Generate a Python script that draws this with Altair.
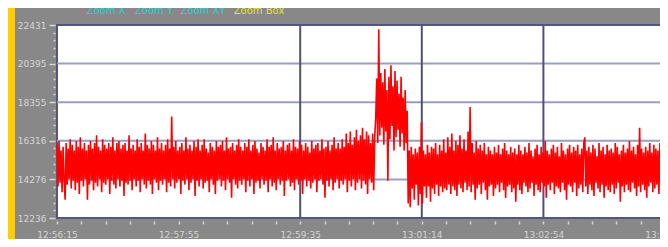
import altair as alt
import pandas as pd

# ---- data (signal level per sample) ----
values = [
    # steady part, 12:56:15 .. ~13:00:20
    16100, 13900, 16300, 14100, 15800, 13600, 16000, 14200, 13200, 16200, 14000, 15900, 14300, 16400, 13800, 16100, 14200, 15800, 13700, 16300,
    14100, 16000, 13500, 16500, 14200, 15900, 13900, 16200, 14300, 15800, 13200, 16100, 14000, 16300, 14200, 15900, 13700, 16200, 14100, 16600,
    13900, 16000, 14300, 15800, 13600, 16400, 14100, 16100, 14000, 15900, 14300, 16200, 13500, 16000, 14200, 16500, 14000, 15800, 13800, 16200,
    14300, 16300, 13900, 15900, 14200, 16100, 13400, 16200, 14100, 15800, 14000, 16600, 14200, 15900, 13700, 16100, 14300, 15800, 13900, 16400,
    14200, 16000, 13600, 16200, 14300, 15800, 14000, 16700, 13800, 16100, 14200, 15900, 14000, 16300, 13500, 16100, 14300, 15800, 14100, 16500,
    13700, 15900, 14200, 16200, 14000, 15800, 14300, 16100, 13600, 16400, 14100, 15900, 13900, 17600, 14300, 16000, 13800, 16300, 14100, 15800,
    14300, 16000, 13500, 16200, 14200, 15800, 14000, 16500, 14300, 15900, 13700, 16100, 14100, 15800, 14300, 16300, 13400, 16000, 14200, 16400,
    13900, 15800, 14300, 16100, 13800, 16400, 14100, 15900, 14200, 15700, 13600, 16200, 14300, 16000, 14000, 15800, 13500, 16300, 14200, 16000,
    14300, 16100, 13900, 16300, 14200, 15800, 13700, 16500, 14300, 15900, 14100, 16000, 13300, 16200, 14300, 15800, 14000, 16100, 13800, 16400,
    14200, 16000, 14000, 15800, 14300, 16200, 13600, 16000, 14200, 16400, 13900, 15800, 14300, 16100, 13500, 16300, 14100, 15900, 14200, 15700,
    13800, 16200, 14300, 16000, 14000, 15800, 14200, 16400, 13600, 16000, 14300, 16100, 13900, 16500, 14100, 15800, 13700, 16200, 14300, 15900,
    14000, 16000, 14200, 16300, 13400, 15800, 14200, 16100, 14300, 16200, 13900, 15800, 14100, 16400, 13700, 16000, 14300, 15900, 14000, 16300,
    14200, 16100, 13500, 15800, 14300, 16200, 13900, 16000, 14200, 15700, 13800, 16300, 14100, 15900, 14300, 16100, 13600, 16200, 14200, 15800,
    14300, 16400, 14000, 15900, 13300, 16000, 14200, 16300, 13900, 15800, 14300, 16100, 13700, 16500, 14100, 15900, 14300, 16200, 13800, 15900,
    14200, 16400, 14000, 16000, 14300, 16700, 13600, 16200, 14200, 16800, 13900, 16100, 14300, 16500, 13700, 16900, 14100, 16300, 14300, 16600,
    13800, 17000, 14200, 16400, 14000, 16800, 13500, 16600, 14300, 16200, 14100, 16700, 13700, 16500,
    # burst
    17500, 19600, 16200, 22200, 16600, 19900, 17000, 19400, 16100, 20100, 16800, 19000, 14200, 19700, 16400, 20300,
    17100, 19200, 15800, 20000, 16500, 19500, 16900, 18800, 16000, 19700, 16700, 18600, 15800, 19000, 16200, 17900,
    # after the burst
    13000, 15800, 12800, 16000, 13800, 15600, 13200, 15900, 14000, 15700, 12900, 16000, 13500, 17300, 13000, 15800, 13900, 15600, 13300, 16100,
    13900, 15700, 13100, 16000, 13800, 15900, 13500, 16200, 14000, 15600, 13400, 16100, 13900, 15800, 13600, 16400, 13800, 15700, 13700, 16500,
    14000, 16000, 13500, 16700, 13900, 15800, 13700, 16300, 13400, 16100, 14000, 16600, 13800, 15900, 13600, 16400, 14100, 15800, 13700, 16800,
    13900, 18100, 13600, 16200, 14000, 15700, 13200, 16300, 13800, 15900, 14000, 16100, 13500, 15800, 14100, 16200, 13700, 15600, 13200, 16000,
    13900, 15800, 14000, 15600, 13400, 16000, 13800, 15700, 14000, 16100, 13600, 15600, 14100, 15900, 13700, 16200, 13300, 15800, 13900, 15600,
    14000, 16000, 13600, 15700, 13800, 15900, 13100, 15600, 14000, 16100, 13700, 15800, 13500, 15600, 14100, 16000, 13900, 15700, 13600, 16200,
    13800, 15800, 14100, 15500, 13400, 15900, 14000, 16100, 13700, 15600, 13600, 16000, 14100, 15700, 13900, 16300, 13300, 15800, 14000, 15600,
    13700, 15900, 14100, 16100, 13500, 15700, 13900, 16000, 13800, 15500, 13600, 16200, 14100, 15800, 13700, 15600, 13200, 15900, 14000, 16100,
    13900, 15700, 13600, 16000, 14100, 15800, 13400, 16100, 13800, 15600, 14000, 15900, 13600, 16200, 16500, 13900, 15800, 13500, 16000, 14000,
    15700, 13700, 16100, 13400, 15900, 14100, 15500, 13800, 16200, 13600, 15800, 14000, 16000, 13300, 15600, 13900, 16100, 13700, 15800, 13600,
    15900, 14000, 15700, 13500, 16200, 13800, 16000, 14100, 15600, 13100, 15800, 13900, 16100, 13600, 15700, 14000, 15900, 13700, 16300, 13600,
    15800, 14100, 16000, 13800, 15600, 13400, 16100, 13900, 17000, 13600, 15900, 14000, 15700, 13700, 16000, 13300, 15800, 13900, 16200, 14100,
    15700, 13600, 16100, 13800, 15900, 14000, 15800, 13500, 16200, 13900, 16000, 13700, 15700, 14000,
]
x_tick_labels = ["12:56:15", "12:57:55", "12:59:35", "13:01:14", "13:02:54", "13:04:34"]
y_ticks = [12236, 14276, 16316, 18355, 20395, 22431]
buttons = ["Zoom X", "Zoom Y", "Zoom XY", "Zoom Box"]

n = len(values)
df = pd.DataFrame({"i": list(range(n)), "v": values})

step = (n - 1) / 5
x_major = [k * step for k in range(6)]
x_all = [k * step / 5 for k in range(26)]
y_all = []
for a, b in zip(y_ticks[:-1], y_ticks[1:]):
    for k in range(5):
        y_all.append(a + (b - a) * k / 5)
y_all.append(y_ticks[-1])

PW, PH = 608, 193  # drawn plot size (px); the right edge falls just past the page

xs = alt.Scale(domain=[0, n - 1], nice=False, zero=False, range=[0, PW])
ys = alt.Scale(domain=[y_ticks[0], y_ticks[-1]], nice=False, zero=False)

lab_arr = "[" + ",".join("'%s'" % s for s in x_tick_labels) + "]"
x_label_expr = (
    "abs(datum.value / %f - round(datum.value / %f)) < 0.01 ? %s[round(datum.value / %f)] : ''"
    % (step, step, lab_arr, step)
)
y_arr = "[" + ",".join(str(v) for v in y_ticks) + "]"
y_major_test = "indexof(%s, datum.value) >= 0" % y_arr
y_label_expr = "%s ? datum.label : ''" % y_major_test

LBL = "#d6d6d6"
FONT = "DejaVu Sans"

x_axis = alt.Axis(
    values=x_all, labelExpr=x_label_expr, title=None, grid=False, domain=False,
    tickColor=LBL, tickSize=3, tickWidth=1.5, offset=3, labelColor=LBL,
    labelFont=FONT, labelFontSize=9, labelPadding=6, labelOverlap=False,
    labelFlush=False, zindex=2,
)
y_axis = alt.Axis(
    values=y_all, labelExpr=y_label_expr, format="d", title=None, grid=False,
    domain=False, tickColor=LBL,
    tickSize={"condition": {"test": y_major_test, "value": 6}, "value": 2},
    tickWidth=1.5, offset=2,
    labelColor=LBL, labelFont=FONT, labelFontSize=9, labelPadding=3,
    labelOverlap=False, labelFlush=False, zindex=2,
)

one = pd.DataFrame({"a": [0]})

left_strip = alt.Chart(one).mark_rect(color="#FFCC00").encode(
    x=alt.value(-57), x2=alt.value(-42), y=alt.value(-25), y2=alt.value(250)
)
plot_bg = alt.Chart(one).mark_rect(
    color="#ffffff", stroke="#55557f", strokeWidth=2
).encode(x=alt.value(0), x2=alt.value(PW), y=alt.value(0), y2=alt.value(PH))

hgrid = alt.Chart(pd.DataFrame({"y": y_ticks[1:-1]})).mark_rule(
    color="#9d9dc2", strokeWidth=2
).encode(y=alt.Y("y:Q", scale=ys, axis=y_axis), x=alt.value(0), x2=alt.value(PW))

vgrid = alt.Chart(pd.DataFrame({"x": x_major[2:5]})).mark_rule(
    color="#50507e", strokeWidth=2
).encode(x=alt.X("x:Q", scale=xs, axis=x_axis), y=alt.value(0), y2=alt.value(PH))

line = alt.Chart(df).mark_line(color="#ff0000", strokeWidth=1.6).encode(
    x=alt.X("i:Q", scale=xs, axis=x_axis),
    y=alt.Y("v:Q", scale=ys, axis=y_axis),
)

btn_x = [49, 97, 146, 202]
btn_col = ["#2fd0d0", "#2fd0d0", "#2fd0d0", "#e2e23a"]
btn_layers = []
for b, bx, bc in zip(buttons, btn_x, btn_col):
    btn_layers.append(
        alt.Chart(pd.DataFrame({"t": [b]})).mark_text(
            color=bc, font=FONT, fontSize=10,
            baseline="alphabetic", align="center",
        ).encode(text="t:N", x=alt.value(bx), y=alt.value(-11))
    )

chart = alt.layer(
    left_strip, plot_bg, hgrid, vgrid, line, *btn_layers
).properties(
    width=603,
    height=PH,
    padding={"left": 49, "top": 17, "right": 0, "bottom": 21},
    autosize=alt.AutoSizeParams(type="none"),
    background="#888888",
).configure_view(
    stroke=None, fill=None
)

chart.save("out.html", embed_options={"renderer": "svg", "actions": False})
